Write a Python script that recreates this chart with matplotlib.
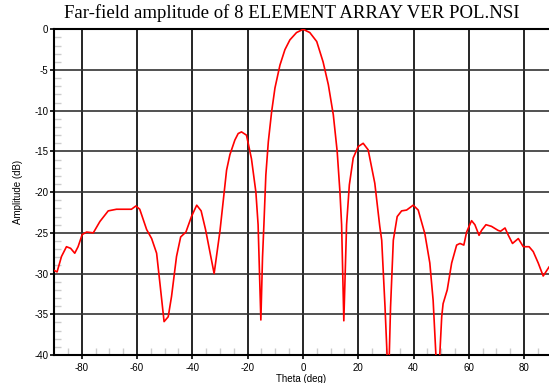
import numpy as np
import matplotlib.pyplot as plt

plt.rcParams['axes.unicode_minus'] = False

# far-field amplitude (theta in deg, amplitude in dB)
theta = [-90, -88.9, -87.3, -85.5, -84.0, -82.5, -81.3, -79.8, -78.2, -75.8,
         -73.4, -70.4, -67.4, -63.2, -62.0, -60.4, -59.0, -56.5, -54.7, -52.9,
         -51.7, -50.2, -48.7, -47.5, -45.7, -44.2, -42.3, -40.3, -38.4, -36.8,
         -35.2, -32.1, -30.0, -27.6, -26.4, -24.6, -23.4, -22.2, -20.4, -18.6,
         -17.0, -16.2, -15.2, -14.6, -14.1, -13.4, -12.5, -11.3, -10.1, -8.3,
         -6.5, -4.7, -2.3, 0.1, 2.5, 5.0, 7.3, 9.2, 11.0, 12.4,
         13.4, 14.0, 14.8, 15.8, 16.8, 18.2, 20.0, 21.8, 23.6, 26.0,
         27.8, 28.5, 29.7, 30.5, 30.85, 31.2, 31.7, 32.7, 34.1, 35.7,
         37.5, 39.9, 41.7, 44.1, 45.9, 47.1, 48.1, 48.8, 49.5, 50.2,
         50.7, 52.2, 53.8, 55.6, 56.8, 58.2, 59.2, 61.0, 62.2, 63.7,
         64.6, 66.2, 68.2, 70.6, 71.5, 73.1, 74.3, 75.8, 77.9, 79.7,
         81.8, 83.3, 85.1, 86.9, 89.0]
amp = [-29.6, -29.8, -27.9, -26.7, -26.9, -27.5, -26.7, -25.2, -24.9, -25.0,
       -23.6, -22.3, -22.1, -22.1, -22.1, -21.7, -22.1, -24.6, -25.7, -27.5,
       -31.2, -35.9, -35.3, -32.8, -27.9, -25.5, -24.9, -23.0, -21.6, -22.3,
       -24.6, -30.0, -24.8, -17.3, -15.4, -13.6, -12.8, -12.6, -13.0, -15.9,
       -20.0, -24.0, -35.7, -28.0, -24.0, -17.9, -13.8, -10.1, -7.2, -4.4,
       -2.5, -1.3, -0.4, 0.0, -0.4, -1.5, -4.0, -6.8, -10.5, -15.0,
       -20.0, -24.0, -35.8, -24.0, -19.1, -15.8, -14.4, -14.0, -14.8, -18.9,
       -24.2, -25.9, -34.1, -40.5, -48.0, -40.5, -34.1, -25.9, -23.0, -22.3,
       -22.2, -21.6, -22.2, -25.1, -28.7, -33.3, -40.0, -50.0, -40.0, -35.3,
       -33.7, -32.0, -28.7, -26.5, -26.3, -26.5, -24.9, -23.5, -24.0, -25.3,
       -24.7, -24.0, -24.2, -24.7, -24.8, -24.4, -25.3, -26.3, -25.7, -26.7,
       -26.7, -27.3, -28.7, -30.3, -29.2]

xticks = [-80, -60, -40, -20, 0, 20, 40, 60, 80]
yticks = [0, -5, -10, -15, -20, -25, -30, -35, -40]

fig = plt.figure(figsize=(5.49, 3.83), dpi=100)
ax = fig.add_axes([0.0984, 0.0731, 0.9016, 0.8504])

ax.plot(theta, amp, color='red', lw=1.2, zorder=3)

ax.set_xlim(-90, 89)
ax.set_ylim(-40, 0)
ax.set_xticks(xticks)
ax.set_yticks(yticks)
ax.set_xticks(np.arange(-85, 90, 5), minor=True)
ax.set_yticks(np.arange(-39, 0, 1), minor=True)

for x in xticks:
    ax.axvline(x, color='black', lw=1.2, zorder=1)
for y in yticks[1:-1]:
    ax.axhline(y, color='#333333', lw=1.2, zorder=1)

ax.tick_params(axis='both', which='major', direction='out', length=3,
               width=1.2, labelsize=7, color='black')
ax.tick_params(axis='x', which='major', pad=2.5)
ax.tick_params(axis='y', which='major', pad=1)
ax.tick_params(axis='both', which='minor', direction='in', length=5,
               width=1, color='#cccccc')
for lab in ax.get_xticklabels() + ax.get_yticklabels():
    lab.set_family('Liberation Sans')

for s in ['left', 'bottom', 'top']:
    ax.spines[s].set_linewidth(1.5)
ax.spines['right'].set_visible(False)

ax.set_xlabel('Theta (deg)', fontsize=7, family='Liberation Sans', labelpad=1)
ax.set_ylabel('Amplitude (dB)', fontsize=7, family='Liberation Sans', labelpad=8)
fig.text(0.532, 0.99, 'Far-field amplitude of 8 ELEMENT ARRAY VER POL.NSI',
         ha='center', va='top', fontsize=13.5, family='Liberation Serif')

fig.savefig('out.png', dpi=100)
